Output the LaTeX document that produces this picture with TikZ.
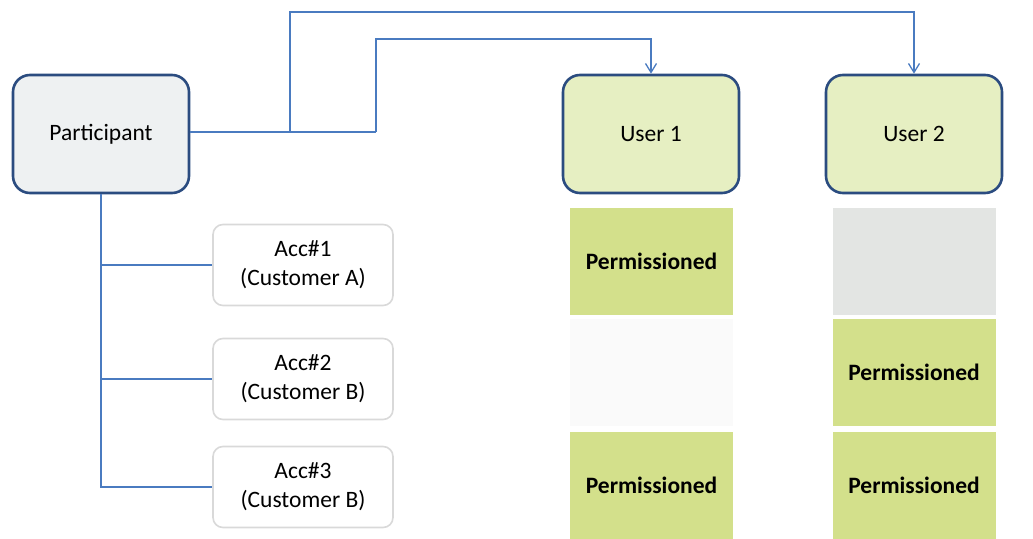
\documentclass[tikz,border=0pt]{standalone}
\usepackage{fontspec}
\setmainfont{Carlito}
\usetikzlibrary{arrows.meta}
\definecolor{boxborder}{HTML}{2B4C80}
\definecolor{pfill}{HTML}{EEF1F2}
\definecolor{ufill}{HTML}{E6EFC2}
\definecolor{link}{HTML}{4A7BC0}
\definecolor{accborder}{HTML}{D9D9D9}
\definecolor{perm}{HTML}{D3E08B}
\definecolor{noperm}{HTML}{E3E5E3}
\definecolor{blank}{HTML}{FAFAFA}
\tikzset{
  mainbox/.style={draw=boxborder, line width=2.6pt, rounded corners=17pt,
    minimum width=176pt, minimum height=118pt, inner sep=0pt, font=\fontsize{23.5}{28}\selectfont},
  accbox/.style={draw=accborder, line width=1.6pt, rounded corners=10pt, fill=white,
    minimum width=180pt, minimum height=81pt, inner sep=0pt, align=center,
    font=\fontsize{23.5}{29}\selectfont},
  cell/.style={inner sep=0pt, minimum width=163pt, minimum height=107pt,
    font=\bfseries\fontsize{23.5}{28}\selectfont},
  conn/.style={draw=link, line width=1.5pt},
  arr/.style={conn, -{Straight Barb[length=9pt,width=11pt,line width=1.3pt]}}
}
\begin{document}
\begin{tikzpicture}[x=1pt,y=-1pt]
\useasboundingbox (0,0) rectangle (1033,538);
\node[mainbox, fill=pfill] (P) at (101,134) {Participant};
\node[mainbox, fill=ufill] (U1) at (651,134) {User 1};
\node[mainbox, fill=ufill] (U2) at (914,134) {User 2};
\node[accbox] (A1) at (303,265) {Acc\#1\\(Customer A)};
\node[accbox] (A2) at (303,379) {Acc\#2\\(Customer B)};
\node[accbox] (A3) at (303,487) {Acc\#3\\(Customer B)};
% permission cells
\node[cell, fill=perm] (C11) at (651.5,261) {Permissioned};
\node[cell, fill=blank] (C21) at (651.5,372) {};
\node[cell, fill=perm] (C31) at (651.5,485) {Permissioned};
\node[cell, fill=noperm] (C12) at (914,261) {};
\node[cell, fill=perm] (C22) at (914,372.5) {Permissioned};
\node[cell, fill=perm] (C32) at (914,485) {Permissioned};
% connectors
\coordinate (j1) at (290,132);
\coordinate (j2) at (376,132);
\coordinate (t1) at (290,12);
\coordinate (t2) at (376,39);
\draw[conn] (P.east |- j1) -- (j2);
\draw[arr] (j1) -- (t1) -| (U2.north);
\draw[arr] (j2) -- (t2) -| (U1.north);
\draw[conn] (P.south) -- (P.south |- A3.west) -- (A3.west);
\draw[conn] (P.south |- A1.west) -- (A1.west);
\draw[conn] (P.south |- A2.west) -- (A2.west);
\end{tikzpicture}
\end{document}
